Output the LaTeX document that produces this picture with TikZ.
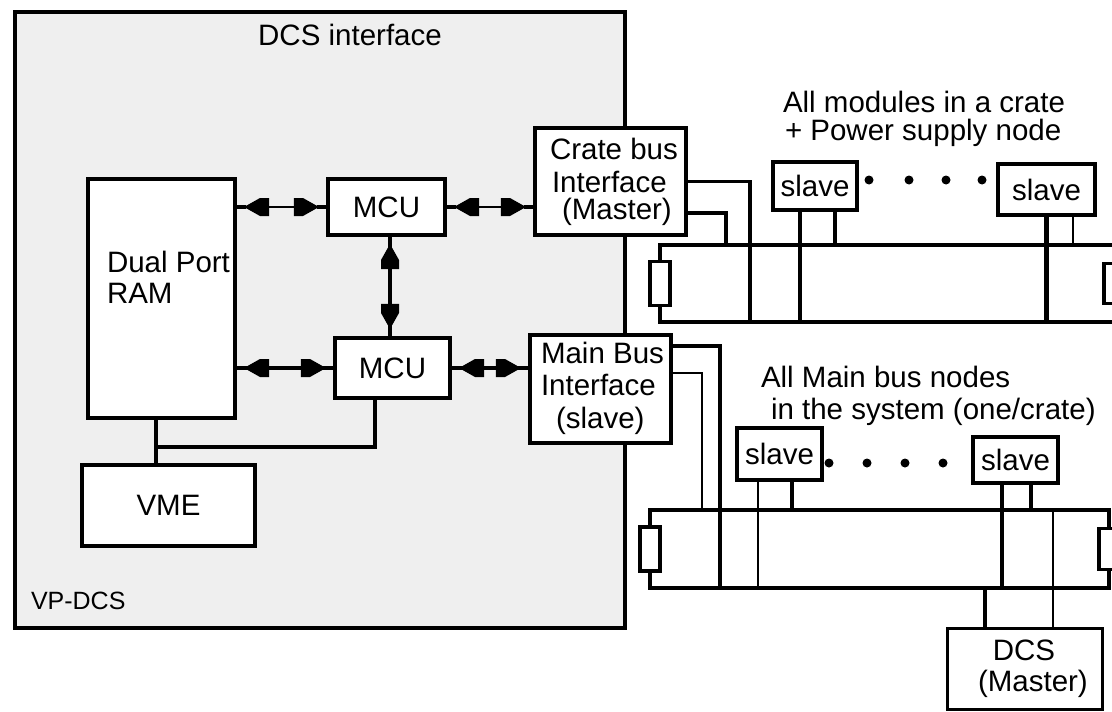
\documentclass[tikz,border=0pt]{standalone}
\usepackage{fontspec}
\setmainfont{Liberation Sans}
\usetikzlibrary{decorations.markings,calc}
\definecolor{panel}{RGB}{239,239,239}
\begin{document}
\begin{tikzpicture}[x=1pt,y=-1pt,
  every node/.style={font=\fontsize{29.5}{31}\selectfont, inner sep=0pt, outer sep=0pt},
  box/.style={draw, line width=4.5pt, fill=white, rectangle},
  bus/.style={draw, line width=4pt, rectangle},
  res/.style={draw, line width=3.5pt, fill=white, minimum width=20pt, minimum height=44pt},
  tk/.style={line width=4.5pt},
  tn/.style={line width=2.2pt},
  tm/.style={line width=3.2pt},
  lbl/.style={anchor=base west},
  dotn/.style={circle, fill=black, minimum size=9pt},
  biarrow/.style={line width=#1, postaction={decorate}, decoration={markings,
     mark=at position 0.01pt with {\fill (9,0) -- (25,9) -- (34,9) -- (34,-9) -- (25,-9) -- cycle; \draw[line width=4.5pt] (0,0) -- (11,0);},
     mark=at position -0.01pt with {\fill (-9,0) -- (-25,9) -- (-34,9) -- (-34,-9) -- (-25,-9) -- cycle; \draw[line width=4.5pt] (0,0) -- (-11,0);}}},
]
\useasboundingbox (0,0) rectangle (1112,712);
\clip (0,0) rectangle (1112,712);
\fill[white] (0,0) rectangle (1112,712);

% panel
\node[draw, line width=3.5pt, fill=panel, minimum width=610pt, minimum height=616pt] (vp) at (320,320) {};
\node[anchor=base] (ttl) at (350,45.5) {DCS interface};
\node[lbl, font=\fontsize{25}{30}\selectfont] (vpl) at (31,609) {VP-DCS};

% inner boxes
\node[box, minimum width=147pt, minimum height=239pt] (ram) at (161.5,298.5) {};
\node[box, minimum width=117pt, minimum height=56pt] (mcu1) at (386.5,207) {MCU};
\node[box, minimum width=115pt, minimum height=60pt] (mcu2) at (392.5,368) {MCU};
\node[box, minimum width=151pt, minimum height=107pt] (crate) at (610.5,181.5) {};
\node[box, minimum width=141pt, minimum height=108pt] (main) at (600.5,389) {};
\node[box, minimum width=173pt, minimum height=81pt] (vme) at (168.5,505.5) {VME};

\node[lbl] (rl1) at (107,272.5) {Dual Port};
\node[lbl] (rl2) at (107,303.5) {RAM};
\node[lbl] (cl1) at (550,159.5) {Crate bus};
\node[lbl] (cl2) at (552,192.5) {Interface};
\node[lbl] (cl3) at (562,219) {(Master)};
\node[lbl] (ml1) at (541,363.5) {Main Bus};
\node[lbl] (ml2) at (541,395.5) {Interface};
\node[lbl] (ml3) at (556,428) {(slave)};

% internal connections
\draw[tk] ([xshift=-5.5pt]ram.south) coordinate (rv) -- (rv |- vme.north);
\coordinate (jn) at (156,447);
\draw[tk] (jn) -| ([xshift=-17.5pt]mcu2.south);

\draw[biarrow=2.2pt] (mcu1.west -| ram.east) -- (mcu1.west);
\draw[biarrow=4.5pt] (mcu2.west -| ram.east) -- (mcu2.west);
\draw[biarrow=2.2pt] (mcu1.east) -- (mcu1.east -| crate.west);
\draw[biarrow=4.5pt] (mcu2.east) -- (mcu2.east -| main.west);
\draw[biarrow=4.5pt] ([xshift=3.5pt]mcu1.south) coordinate (va) -- (va |- mcu2.north);

% buses
\node[bus, minimum width=454pt, minimum height=77pt] (ubus) at (887,283.5) {};
\node[bus, minimum width=459pt, minimum height=78pt] (lbus) at (879.5,549) {};

% slaves and master
\node[box, minimum width=84pt, minimum height=48pt] (s1) at (815,186) {slave};
\node[box, minimum width=97pt, minimum height=51pt] (s2) at (1046.5,189.5) {slave};
\node[box, minimum width=85pt, minimum height=52pt] (s3) at (779.5,454) {slave};
\node[box, minimum width=85pt, minimum height=46pt] (s4) at (1015.5,460) {slave};
\node[draw, line width=3pt, fill=white, minimum width=155pt, minimum height=81pt] (dcs) at (1024.5,668.5) {};
\node[anchor=base] (dl1) at (1024,660.5) {DCS};
\node[lbl] (dl2) at (978,691) {(Master)};

% labels
\node[lbl] (al1) at (783,112.5) {All modules in a crate};
\node[lbl] (al2) at (785,140.5) {+ Power supply node};
\node[lbl] (bl1) at (761,387.5) {All Main bus nodes};
\node[lbl] (bl2) at (771,419.5) {in the system (one/crate)};

% dots
\node[dotn] (d1) at (869,180) {};
\node[dotn] (d2) at (909,180) {};
\node[dotn] (d3) at (946,180) {};
\node[dotn] (d4) at (982,180) {};
\node[dotn] (d5) at (829,463) {};
\node[dotn] (d6) at (867,463) {};
\node[dotn] (d7) at (905,463) {};
\node[dotn] (d8) at (943,463) {};

% interface to bus connections
\coordinate (cx1) at (750,322);
\coordinate (cx2) at (726,245);
\coordinate (mx1) at (720,588);
\coordinate (mx2) at (702,510);
\draw[tm] (crate.east) -| (cx1);
\draw[tk] ([yshift=-31.5pt]crate.east) -| (cx2);
\draw[tk] ([yshift=43pt]main.east) -| (mx1);
\draw[tn] ([yshift=16pt]main.east) -| (mx2);

% node taps
\draw[tk] ([xshift=-15pt]s1.south) coordinate (a1) -- (a1 |- ubus.south);
\draw[tk] ([xshift=20pt]s1.south) coordinate (a2) -- (a2 |- ubus.north);
\draw[tk] (s2.south) coordinate (a3) -- (a3 |- ubus.south);
\draw[tn] ([xshift=26.5pt]s2.south) coordinate (a4) -- (a4 |- ubus.north);
\draw[tn] ([xshift=-21.5pt]s3.south) coordinate (b1) -- (b1 |- lbus.south);
\draw[tk] ([xshift=12.5pt]s3.south) coordinate (b2) -- (b2 |- lbus.north);
\draw[tk] ([xshift=-13.5pt]s4.south) coordinate (b3) -- (b3 |- lbus.south);
\draw[tk] ([xshift=15.5pt]s4.south) coordinate (b4) -- (b4 |- lbus.north);
\draw[tk] ([xshift=-39.5pt]dcs.north) coordinate (c1) -- (c1 |- lbus.south);
\draw[tn] ([xshift=28.5pt]dcs.north) coordinate (c2) -- (c2 |- lbus.north);

% terminators
\node[res] (ur1) at (ubus.west) {};
\node[res, minimum height=40pt] (ur2) at (ubus.east) {};
\node[res] (lr1) at (lbus.west) {};
\node[res, minimum height=41pt] (lr2) at (lbus.east) {};
\end{tikzpicture}
\end{document}
